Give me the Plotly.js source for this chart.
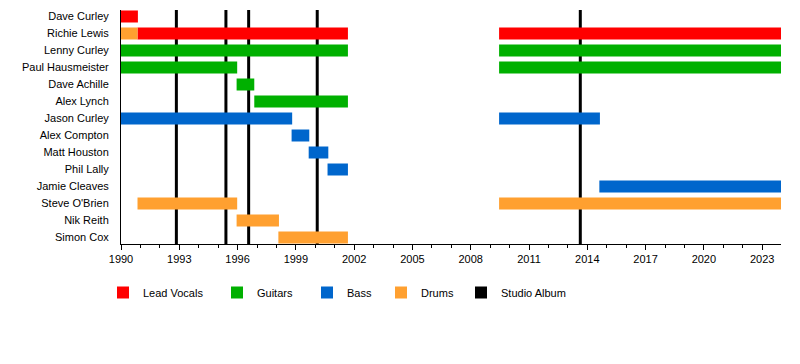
<!DOCTYPE html>
<html>
<head>
<meta charset="utf-8">
<script src="https://cdn.plot.ly/plotly-3.0.1.min.js"></script>
<style>html,body{margin:0;padding:0;background:#fff;}#chart{width:800px;height:364px;}</style>
</head>
<body>
<div id="chart"></div>
<script>
// Members (top to bottom)
const members = ["Dave Curley","Richie Lewis","Lenny Curley","Paul Hausmeister","Dave Achille","Alex Lynch","Jason Curley","Alex Compton","Matt Houston","Phil Lally","Jamie Cleaves","Steve O'Brien","Nik Reith","Simon Cox"];

// Lead vocals periods
const vocalsWho   = ["Dave Curley","Richie Lewis","Richie Lewis"];
const vocalsStart = [1990.0, 1990.85, 2009.46];
const vocalsEnd   = [1990.87, 2001.68, 2023.97];

// Guitars periods
const guitarsWho   = ["Lenny Curley","Lenny Curley","Paul Hausmeister","Paul Hausmeister","Dave Achille","Alex Lynch"];
const guitarsStart = [1990.0, 2009.46, 1990.0, 2009.46, 1995.95, 1996.86];
const guitarsEnd   = [2001.68, 2023.97, 1995.98, 2023.97, 1996.86, 2001.68];

// Bass periods
const bassWho   = ["Jason Curley","Jason Curley","Alex Compton","Matt Houston","Phil Lally","Jamie Cleaves"];
const bassStart = [1990.0, 2009.46, 1998.78, 1999.66, 2000.63, 2014.62];
const bassEnd   = [1998.81, 2014.65, 1999.69, 2000.67, 2001.68, 2023.97];

// Drums periods
const drumsWho   = ["Richie Lewis","Steve O'Brien","Steve O'Brien","Nik Reith","Simon Cox"];
const drumsStart = [1990.0, 1990.85, 2009.46, 1995.95, 1998.1];
const drumsEnd   = [1990.85, 1995.98, 2023.97, 1998.13, 2001.68];

// Studio albums (release dates)
const albums = [1992.85, 1995.4, 1996.57, 2000.1, 2013.64];

const xStart = 1990, xEnd = 2023.97;

function barTrace(name, who, st, en, color, legendId) {
  return {
    type: 'bar', orientation: 'h', name: name,
    y: who.map(w => members.indexOf(w)),
    base: st,
    x: st.map((s, i) => en[i] - s),
    width: 0.706,
    marker: {color: color, line: {width: 0}},
    hoverinfo: 'skip',
    legend: legendId
  };
}

const traces = [
  barTrace('Lead Vocals', vocalsWho, vocalsStart, vocalsEnd, '#ff0000', 'legend'),
  barTrace('Guitars', guitarsWho, guitarsStart, guitarsEnd, '#00b000', 'legend2'),
  barTrace('Bass', bassWho, bassStart, bassEnd, '#0066cc', 'legend3'),
  barTrace('Drums', drumsWho, drumsStart, drumsEnd, '#ffa030', 'legend4'),
  {type: 'bar', orientation: 'h', name: 'Studio Album', x: [null], y: [null],
   marker: {color: '#000000'}, legend: 'legend5', hoverinfo: 'skip'}
];

const shapes = albums.map(a => ({
  type: 'line', xref: 'x', yref: 'paper', x0: a, x1: a, y0: 0, y1: 1,
  line: {color: '#000000', width: 3}, layer: 'below'
}));

const font = {family: 'Liberation Sans, Arial, sans-serif', size: 11, color: '#000'};
function leg(px) {
  return {xref: 'container', yref: 'container', x: px / 800, y: 1 - 278 / 364,
          xanchor: 'left', yanchor: 'top', orientation: 'h', font: font,
          bgcolor: 'rgba(0,0,0,0)', borderwidth: 0};
}

const layout = {
  width: 800, height: 364,
  margin: {l: 121, r: 19, t: 10, b: 120},
  paper_bgcolor: '#fff', plot_bgcolor: '#fff',
  font: font,
  barmode: 'overlay',
  showlegend: true,
  legend: leg(103), legend2: leg(217), legend3: leg(307), legend4: leg(381), legend5: leg(461),
  xaxis: {
    range: [xStart, xEnd], tick0: 1990, dtick: 3, ticks: 'outside', ticklen: 5, tickcolor: '#000',
    showgrid: false, zeroline: false, showline: true, linecolor: '#000', linewidth: 1,
    tickfont: font,
    minor: {dtick: 1, tick0: 1990, ticks: 'outside', ticklen: 3, tickcolor: '#000', showgrid: false}
  },
  yaxis: {
    range: [13.382, -0.382],
    tickvals: members.map((m, i) => i), ticktext: members,
    ticks: '', showgrid: false, zeroline: false, showline: true, linecolor: '#000', linewidth: 1,
    ticklabelstandoff: 9, tickfont: font
  },
  shapes: shapes
};

Plotly.newPlot('chart', traces, layout, {displayModeBar: false, staticPlot: true});
</script>
</body>
</html>
